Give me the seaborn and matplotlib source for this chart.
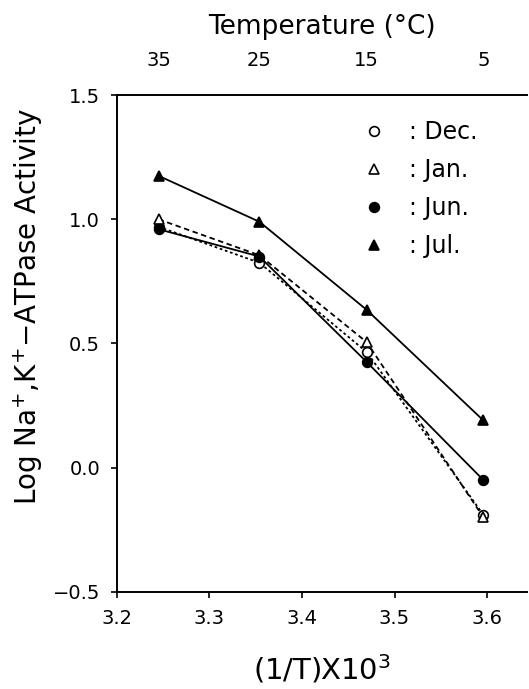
import matplotlib
matplotlib.use('Agg')
import matplotlib.pyplot as plt
from matplotlib.lines import Line2D
import pandas as pd
import seaborn as sns

sns.set_style('ticks')
plt.rcParams['font.family'] = ['DejaVu Sans']
plt.rcParams.update({'text.color': 'black', 'axes.labelcolor': 'black',
                     'xtick.color': 'black', 'ytick.color': 'black',
                     'axes.edgecolor': 'black'})

# ---- Data ----
inv_t = [3.245, 3.354, 3.470, 3.596]
temps = [35, 25, 15, 5]
dec = [0.97, 0.825, 0.465, -0.19]
jan = [1.00, 0.855, 0.505, -0.20]
jun = [0.96, 0.850, 0.425, -0.05]
jul = [1.175, 0.990, 0.635, 0.19]

series = {
    ': Dec.': (dec, 'o', 'white', (0, (1.5, 1.5))),
    ': Jan.': (jan, '^', 'white', (0, (3, 2))),
    ': Jun.': (jun, 'o', 'black', '-'),
    ': Jul.': (jul, '^', 'black', '-'),
}

fig = plt.figure(figsize=(5.29, 6.89), dpi=100)
ax = fig.add_axes([0.221, 0.141, 0.775, 0.721])

handles = []
for name, (vals, mk, fc, ls) in series.items():
    df = pd.DataFrame({'x': inv_t, 'y': vals})
    sns.lineplot(data=df, x='x', y='y', ax=ax, color='black', linewidth=1.3,
                 linestyle=ls, marker=mk, markersize=7, markerfacecolor=fc,
                 markeredgecolor='black', markeredgewidth=1.2, sort=False)
    handles.append(Line2D([], [], linestyle='none', marker=mk, markersize=7,
                          markerfacecolor=fc, markeredgecolor='black',
                          markeredgewidth=1.2, label=name))

ax.set_xlim(3.2, 3.643)
ax.set_ylim(-0.5, 1.5)
ax.set_xticks([3.2, 3.3, 3.4, 3.5, 3.6])
ax.set_yticks([-0.5, 0.0, 0.5, 1.0, 1.5])
ax.set_xticklabels(['3.2', '3.3', '3.4', '3.5', '3.6'])
ax.set_yticklabels(['\u22120.5', '0.0', '0.5', '1.0', '1.5'])
ax.tick_params(axis='both', direction='out', length=4, width=1.2, labelsize=14)
ax.tick_params(axis='x', pad=8)
ax.tick_params(axis='y', pad=8)
ax.set_xlabel('(1/T)X10$^{3}$', fontsize=21, labelpad=18)
ax.set_ylabel('Log Na$^{+}$,K$^{+}$\u2212ATPase Activity', fontsize=20)
ax.yaxis.set_label_coords(-0.175, 0.575)

for s in ['left', 'bottom', 'top']:
    ax.spines[s].set_linewidth(1.4)
ax.spines['right'].set_visible(False)

# top temperature axis
top = ax.secondary_xaxis('top')
top.set_xticks(inv_t)
top.set_xticklabels([str(t) for t in temps])
top.tick_params(length=0, labelsize=14, pad=18)
top.set_xlabel('Temperature (\u00b0C)', fontsize=19, labelpad=12)
top.spines['top'].set_visible(False)

ax.legend(handles=handles, loc='upper left', frameon=False, fontsize=17,
          handlelength=1.0, handletextpad=1.0, labelspacing=0.6,
          borderpad=0, borderaxespad=0, bbox_to_anchor=(0.598, 0.95))

fig.savefig('out.png', dpi=100)
